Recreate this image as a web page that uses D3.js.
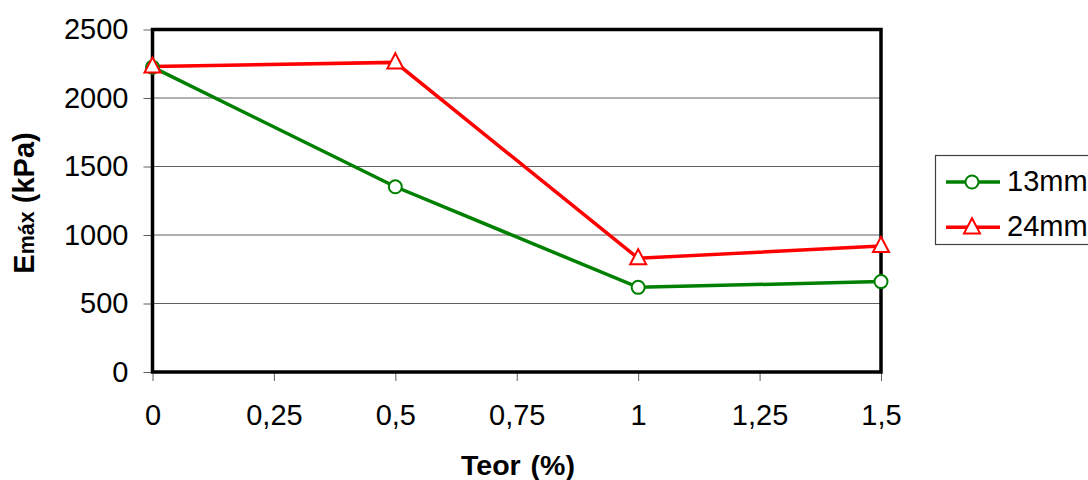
<!DOCTYPE html>
<html><head><meta charset="utf-8">
<script src="https://cdn.jsdelivr.net/npm/d3@7"></script>
<style>body{margin:0;background:#fff}svg{display:block}text{font-family:"Liberation Sans",Arial,sans-serif}</style>
</head><body><svg id="c" width="1088" height="480"></svg>
<script>
const xValues = [0, 0.5, 1, 1.5];
const series13 = [2225, 1352, 618, 660];
const series24 = [2230, 2260, 830, 920];
const seriesNames = ["13mm", "24mm"];
const xTicks = [0, 0.25, 0.5, 0.75, 1, 1.25, 1.5];
const yTicks = [0, 500, 1000, 1500, 2000, 2500];

const svg = d3.select("#c");
const L = 152.5, R = 881, T = 29.5, B = 372;
const FS = 29;
const x = d3.scaleLinear().domain([0, 1.5]).range([L, R]);
const y = d3.scaleLinear().domain([0, 2500]).range([B, T]);
const fmt = d => String(d).replace(".", ",");

// gridlines
svg.append("g").selectAll("line").data(yTicks.filter(d => d > 0 && d < 2500)).join("line")
  .attr("x1", L).attr("x2", R).attr("y1", d => y(d)).attr("y2", d => y(d))
  .attr("stroke", "#606060").attr("stroke-width", 1);

// y axis
const yAxis = svg.append("g").attr("transform", `translate(${L},0)`)
  .call(d3.axisLeft(y).tickValues(yTicks).tickSize(9).tickPadding(15).tickFormat(d => d));
yAxis.select(".domain").remove();
yAxis.selectAll(".tick line").attr("stroke", "#606060");
yAxis.selectAll(".tick text").attr("font-size", FS).attr("fill", "#000")
  .attr("font-family", "Liberation Sans, Arial, sans-serif");

// x axis
const xAxis = svg.append("g").attr("transform", `translate(0,${B})`)
  .call(d3.axisBottom(x).tickValues(xTicks).tickSize(9).tickPadding(23).tickFormat(fmt));
xAxis.select(".domain").remove();
xAxis.selectAll(".tick line").attr("stroke", "#606060");
xAxis.selectAll(".tick text").attr("font-size", FS).attr("fill", "#000")
  .attr("font-family", "Liberation Sans, Arial, sans-serif");

// frame
svg.append("rect").attr("x", L).attr("y", T).attr("width", R - L).attr("height", B - T)
  .attr("fill", "none").attr("stroke", "#000").attr("stroke-width", 3.5);

const line = d3.line().x((d, i) => x(xValues[i])).y(d => y(d));
const green = "#008000", red = "#ff0000";

function triPath(cx, cy, s) {
  const h = s * 0.95;
  return `M${cx},${cy - h * 0.6}L${cx + s / 2},${cy + h * 0.4}L${cx - s / 2},${cy + h * 0.4}Z`;
}

svg.append("path").datum(series13).attr("d", line).attr("fill", "none")
  .attr("stroke", green).attr("stroke-width", 3.5);
svg.append("path").datum(series24).attr("d", line).attr("fill", "none")
  .attr("stroke", red).attr("stroke-width", 3.5);

svg.append("g").selectAll("circle").data(series13).join("circle")
  .attr("cx", (d, i) => x(xValues[i])).attr("cy", d => y(d)).attr("r", 6.5)
  .attr("fill", "#fff").attr("stroke", green).attr("stroke-width", 2);
svg.append("g").selectAll("path").data(series24).join("path")
  .attr("d", (d, i) => triPath(x(xValues[i]), y(d), 16))
  .attr("fill", "#fff").attr("stroke", red).attr("stroke-width", 2);

// axis titles
svg.append("text").attr("x", 518).attr("y", 475).attr("text-anchor", "middle")
  .attr("font-size", 28.5).attr("font-weight", "bold").attr("word-spacing", 2).text("Teor (%)");
const yt = svg.append("text").attr("transform", "translate(34,203) rotate(-90)")
  .attr("text-anchor", "middle").attr("font-size", 29).attr("font-weight", "bold");
yt.append("tspan").text("E");
yt.append("tspan").attr("font-size", 21.5).text("máx");
yt.append("tspan").text(" (kPa)");

// legend
const lg = svg.append("g");
lg.append("rect").attr("x", 935.5).attr("y", 155.5).attr("width", 200).attr("height", 89)
  .attr("fill", "#fff").attr("stroke", "#404040").attr("stroke-width", 1.2);
const items = [{n: seriesNames[0], c: green, m: "c"}, {n: seriesNames[1], c: red, m: "t"}];
items.forEach((it, i) => {
  const cy = 182 + i * 45.3;
  lg.append("line").attr("x1", 946).attr("x2", 1000).attr("y1", cy).attr("y2", cy)
    .attr("stroke", it.c).attr("stroke-width", 3.5);
  if (it.m === "c") lg.append("circle").attr("cx", 972).attr("cy", cy).attr("r", 6.5)
    .attr("fill", "#fff").attr("stroke", it.c).attr("stroke-width", 2);
  else lg.append("path").attr("d", triPath(972, cy, 16))
    .attr("fill", "#fff").attr("stroke", it.c).attr("stroke-width", 2);
  lg.append("text").attr("x", 1007).attr("y", cy + 8.5).attr("font-size", FS).text(it.n);
});
</script></body></html>
